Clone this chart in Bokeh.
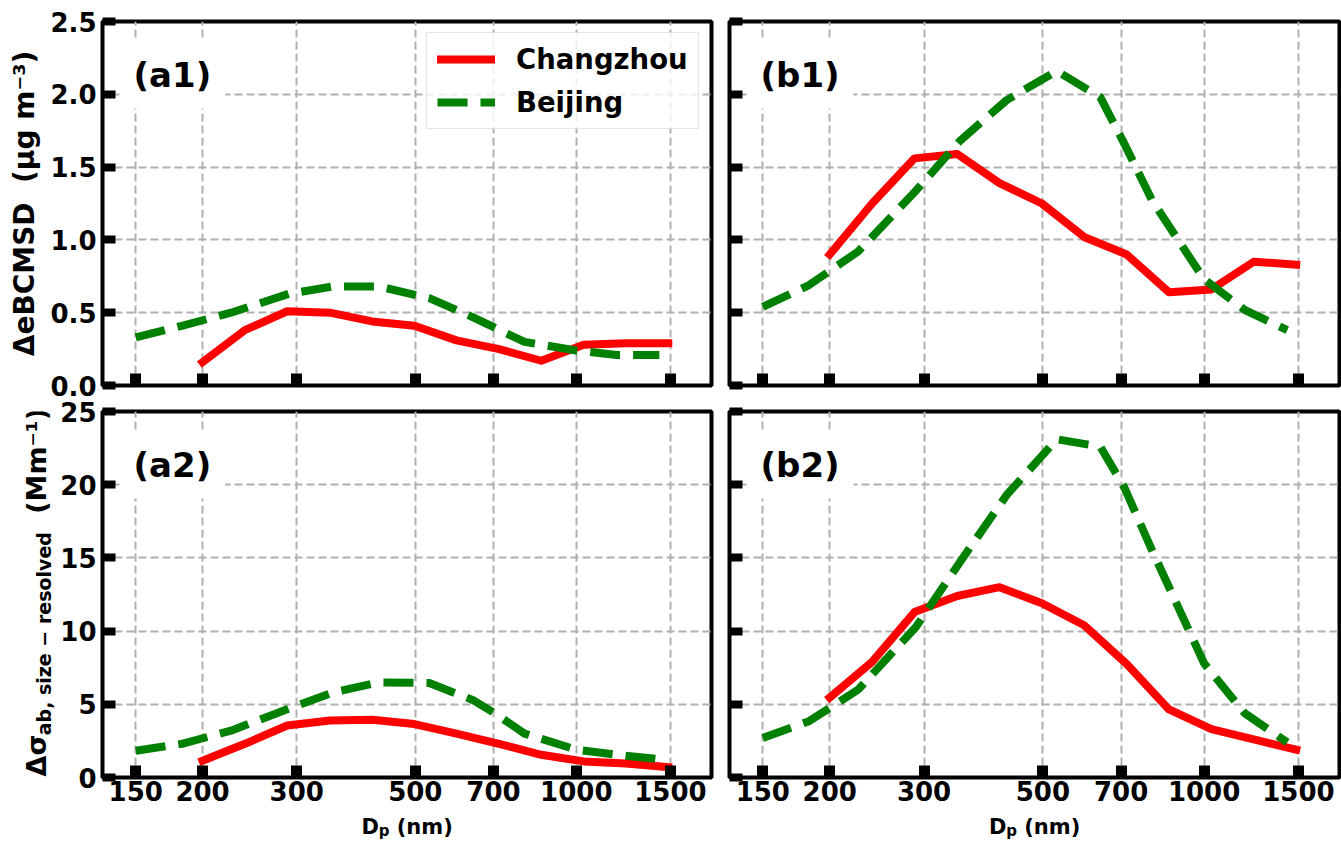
from bokeh.plotting import figure
from bokeh.models import Range1d, FixedTicker, Label, Legend, LegendItem
from bokeh.layouts import column, row
from bokeh.embed import file_html
from bokeh.resources import INLINE

# ---------------- data ----------------
cz_d = [200, 240, 288, 346, 415, 498, 597, 717, 860, 1032, 1238, 1486]
bj_d = [150, 183, 226, 290, 350, 428, 531, 640, 710, 800, 1000, 1190, 1430]

a1_cz = [0.16, 0.38, 0.51, 0.50, 0.44, 0.41, 0.31, 0.25, 0.17, 0.28, 0.29, 0.29]
a1_bj = [0.33, 0.41, 0.50, 0.63, 0.68, 0.68, 0.60, 0.47, 0.39, 0.30, 0.24, 0.21, 0.21]
b1_cz = [0.90, 1.25, 1.56, 1.59, 1.39, 1.25, 1.02, 0.90, 0.64, 0.66, 0.85, 0.83]
b1_bj = [0.54, 0.69, 0.92, 1.34, 1.68, 1.96, 2.16, 1.98, 1.66, 1.27, 0.73, 0.52, 0.38]
a2_cz = [1.14, 2.3, 3.55, 3.9, 3.95, 3.65, 3.0, 2.3, 1.55, 1.1, 0.95, 0.7]
a2_bj = [1.83, 2.3, 3.2, 4.7, 5.8, 6.5, 6.45, 5.3, 4.3, 3.0, 1.9, 1.55, 1.25]
b2_cz = [5.46, 7.9, 11.3, 12.4, 13.0, 11.9, 10.4, 7.75, 4.65, 3.3, 2.6, 1.9]
b2_bj = [2.7, 3.85, 6.0, 10.3, 14.7, 19.3, 23.1, 22.6, 19.8, 15.5, 7.8, 4.4, 2.4]

series_names = ["Changzhou", "Beijing"]
panel_names = ["(a1)", "(b1)", "(a2)", "(b2)"]

x_ticks = [150, 200, 300, 500, 700, 1000, 1500]
x_tick_labels = ["150", "200", "300", "500", "700", "1000", "1500"]
y1_ticks = [0.0, 0.5, 1.0, 1.5, 2.0, 2.5]
y1_tick_labels = ["0.0", "0.5", "1.0", "1.5", "2.0", "2.5"]
y2_ticks = [0, 5, 10, 15, 20, 25]
y2_tick_labels = ["0", "5", "10", "15", "20", "25"]

NB = "\u00a0"
ylabel_top = "ΔeBCMSD" + NB + NB + "(μg" + NB + "m⁻³)"
ylabel_bot = ["Δσ", "ab," + NB + "size" + NB + "−" + NB + "resolved", "(Mm⁻¹)"]
xlabel = ["D", "p", "(nm)"]

FONT = "DejaVu Sans"
RED = "#ff0000"
GREEN = "#008000"

# ---------------- geometry ----------------
FW_L, FW_R = 609, 610
FH_T, FH_B = 364, 366
S1, S2 = 45, 57          # label strip widths (rows 1, 2)
R1_TOP, R1_BOT = 21, 13
R2_TOP, R2_BOT = 13, 33
R3 = 29                  # x-label strip height
ROT_SHIFT = 32           # along-text offset of rotated left-aligned labels


def strip(w, h):
    s = figure(width=w, height=h, x_range=Range1d(0, 1), y_range=Range1d(0, 1),
               x_axis_location=None, y_axis_location=None, min_border=0,
               output_backend="svg", toolbar_location=None)
    s.outline_line_color = None
    s.grid.visible = False
    s.background_fill_color = "white"
    s.border_fill_color = "white"
    return s


def txt(x, y, text, size, angle=0, align="left"):
    return Label(x=x, y=y, x_units="screen", y_units="screen", text=text,
                 angle=angle, angle_units="deg", text_align=align,
                 text_baseline="alphabetic", text_font=FONT,
                 text_font_size=size, text_font_style="bold",
                 text_color="black")


def panel(cz, bj, yticks, ylabels, ymax, name, left_b, fw, fh, top_b, bot_b,
          right_b, show_ylab, show_xlab, legend=False):
    p = figure(x_axis_type="log", x_range=Range1d(130, 1790),
               y_range=Range1d(0, ymax), frame_width=fw, frame_height=fh,
               output_backend="svg", toolbar_location=None)
    p.min_border_left = left_b
    p.min_border_right = right_b
    p.min_border_top = top_b
    p.min_border_bottom = bot_b
    p.background_fill_color = "white"
    p.border_fill_color = "white"
    p.outline_line_color = "black"
    p.outline_line_width = 4
    p.outline_line_alpha = 1

    xt = FixedTicker(ticks=x_ticks)
    yt = FixedTicker(ticks=yticks)
    p.xaxis.ticker = xt
    p.yaxis.ticker = yt
    p.xgrid.ticker = xt
    p.ygrid.ticker = yt
    for g in (p.xgrid, p.ygrid):
        g.grid_line_color = "#b0b0b0"
        g.grid_line_width = 2
        g.grid_line_dash = "8 4"
    for ax in (p.xaxis, p.yaxis):
        ax.axis_line_color = None
        ax.minor_tick_line_color = None
        ax.major_tick_out = 0
        ax.major_tick_line_color = "black"
        ax.major_label_text_font = FONT
        ax.major_label_text_font_style = "bold"
        ax.major_label_text_color = "black"
    p.xaxis.major_tick_in = 12
    p.xaxis.major_tick_line_width = 11
    p.yaxis.major_tick_in = 13
    p.yaxis.major_tick_line_width = 8

    if show_xlab:
        p.xaxis.major_label_overrides = dict(zip(x_ticks, x_tick_labels))
        p.xaxis.major_label_text_font_size = "26px"
        p.xaxis.major_label_standoff = 3
    else:
        p.xaxis.major_label_text_color = None
        p.xaxis.major_label_text_font_size = "1px"
        p.xaxis.major_label_standoff = 0
    if show_ylab:
        p.yaxis.major_label_overrides = dict(zip(yticks, ylabels))
        p.yaxis.major_label_text_font_size = "26px"
        p.yaxis.major_label_standoff = 6
    else:
        p.yaxis.major_label_text_color = None
        p.yaxis.major_label_text_font_size = "1px"
        p.yaxis.major_label_standoff = 0

    r1 = p.line(cz_d, cz, line_color=RED, line_width=8, line_cap="square",
                line_join="round")
    r2 = p.line(bj_d, bj, line_color=GREEN, line_width=8, line_dash="30 13",
                line_join="round")

    p.add_layout(Label(x=17, y=fh - 53, x_units="screen", y_units="screen",
                       text=name, text_font=FONT, text_font_size="34px",
                       text_font_style="bold", text_color="black",
                       text_baseline="alphabetic",
                       background_fill_color="white", padding=14))

    if legend:
        lg = Legend(items=[LegendItem(label=series_names[0], renderers=[r1]),
                           LegendItem(label=series_names[1], renderers=[r2])],
                    location=(324, fh - 108))
        lg.label_text_font = FONT
        lg.label_text_font_style = "bold"
        lg.label_text_font_size = "27.5px"
        lg.label_text_color = "black"
        lg.glyph_width = 58
        lg.glyph_height = 30
        lg.label_height = 30
        lg.label_standoff = 21
        lg.spacing = 11
        lg.padding = 10
        lg.margin = 0
        lg.border_line_color = "#cccccc"
        lg.border_line_width = 1.5
        lg.background_fill_alpha = 0.8
        p.add_layout(lg)
    return p


p_a1 = panel(a1_cz, a1_bj, y1_ticks, y1_tick_labels, 2.5, panel_names[0],
             102 - S1, FW_L, FH_T, R1_TOP, R1_BOT, 9, True, False, legend=True)
p_b1 = panel(b1_cz, b1_bj, y1_ticks, y1_tick_labels, 2.5, panel_names[1],
             9, FW_R, FH_T, R1_TOP, R1_BOT, 2, False, False)
p_a2 = panel(a2_cz, a2_bj, y2_ticks, y2_tick_labels, 25, panel_names[2],
             102 - S2, FW_L, FH_B, R2_TOP, R2_BOT, 9, True, True)
p_b2 = panel(b2_cz, b2_bj, y2_ticks, y2_tick_labels, 25, panel_names[3],
             9, FW_R, FH_B, R2_TOP, R2_BOT, 2, False, True)

H1 = R1_TOP + FH_T + R1_BOT
H2 = R2_TOP + FH_B + R2_BOT

# y-axis label strips
s1 = strip(S1, H1)
s1.add_layout(txt(24, R1_BOT + FH_T / 2 - 13, ylabel_top, "28px", angle=90,
                  align="center"))

s2 = strip(S2, H2)
w_main1 = (0.774 + 0.716) * 27
w_sub = 10.67 * 19
w_gap = 2 * 0.348 * 27
y0 = R2_BOT
s2.add_layout(txt(36, y0 - ROT_SHIFT, ylabel_bot[0], "27px", angle=90))
s2.add_layout(txt(43, y0 + w_main1 + 1 - ROT_SHIFT, ylabel_bot[1], "19px",
                  angle=90))
s2.add_layout(txt(36, y0 + w_main1 + w_sub + w_gap + 1 - ROT_SHIFT,
                  ylabel_bot[2], "27px", angle=90))

# x-axis label strips
WA = S2 + (102 - S2) + FW_L + 9
WB = 9 + FW_R + 2
xa = strip(WA, R3)
xb = strip(WB, R3)
for s, cx in ((xa, 102 + FW_L / 2), (xb, 9 + FW_R / 2)):
    start = cx - 45.6
    s.add_layout(txt(start, 13, xlabel[0], "21px"))
    s.add_layout(txt(start + 17.4, 9, xlabel[1], "15px"))
    s.add_layout(txt(start + 28.0 + 7.3, 13, xlabel[2], "21px"))

layout = column(row(s1, p_a1, p_b1), row(s2, p_a2, p_b2), row(xa, xb))
open("out.html", "w").write(file_html(layout, INLINE))
